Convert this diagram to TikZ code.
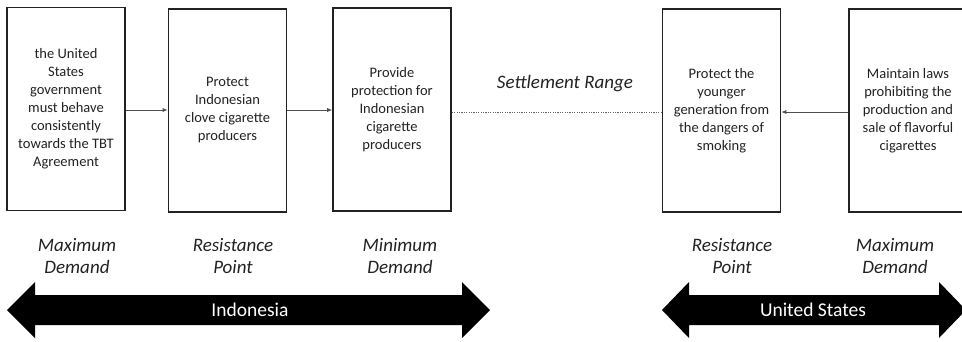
\documentclass[tikz,border=0pt]{standalone}
\usepackage{fontspec}
\setmainfont{Carlito}
\usetikzlibrary{arrows.meta}
\definecolor{ink}{HTML}{222222}
\tikzset{
  box/.style={draw=ink, line width=1.6pt, minimum width=118pt, minimum height=203pt, inner sep=0pt,
     align=center, text=ink, font=\fontsize{14.5}{18}\selectfont},
  lbl/.style={align=center, text=ink, font=\fontsize{19}{22}\selectfont\itshape},
  conn/.style={draw=ink!80, line width=0.7pt, -{Latex[length=5pt,width=4pt]}},
  dots/.style={draw=ink!70, line width=0.8pt, dash pattern=on 1.2pt off 1.2pt},
  bar/.style={fill=black},
  bartext/.style={text=white, font=\fontsize{19.5}{22}\selectfont}
}
\begin{document}
\begin{tikzpicture}[x=1pt,y=-1pt]
\useasboundingbox (0,0) rectangle (962,341);
\node[box] (b1) at (66,109) {the United\\States\\government\\must behave\\consistently\\towards the TBT\\Agreement};
\node[box] (b2) at (227.5,110.5) {Protect\\Indonesian\\clove cigarette\\producers};
\node[box] (b3) at (392,109.5) {Provide\\protection for\\Indonesian\\cigarette\\producers};
\node[box] (b4) at (721.5,110.5) {Protect the\\younger\\generation from\\the dangers of\\smoking};
\node[box] (b5) at (908,110.5) {Maintain laws\\prohibiting the\\production and\\sale of flavorful\\cigarettes};
\draw[conn] (b1.east |- 0,110) -- (b2.west |- 0,110);
\draw[conn] (b2.east |- 0,110) -- (b3.west |- 0,110);
\draw[conn] (b5.west |- 0,112) -- (b4.east |- 0,112);
\draw[dots] (b3.east |- 0,112) -- (b4.west |- 0,112);
\node[lbl] (sr) at (565,84) {Settlement Range};
\node[lbl] (l1) at (77,256) {Maximum\\Demand};
\node[lbl] (l2) at (233,256) {Resistance\\Point};
\node[lbl] (l3) at (400,256) {Minimum\\Demand};
\node[lbl] (l4) at (732,256) {Resistance\\Point};
\node[lbl] (l5) at (895,256) {Maximum\\Demand};
\fill[bar] (7,310) -- (35,282) -- (35,295) -- (462,295) -- (462,282) -- (490,310) -- (462,338) -- (462,325) -- (35,325) -- (35,338) -- cycle;
\node[bartext] (ind) at (250,310) {Indonesia};
\fill[bar] (662,310) -- (689,282) -- (689,295) -- (939,295) -- (939,282) -- (966,310) -- (939,338) -- (939,325) -- (689,325) -- (689,338) -- cycle;
\node[bartext] (us) at (813,310) {United States};
\end{tikzpicture}
\end{document}
